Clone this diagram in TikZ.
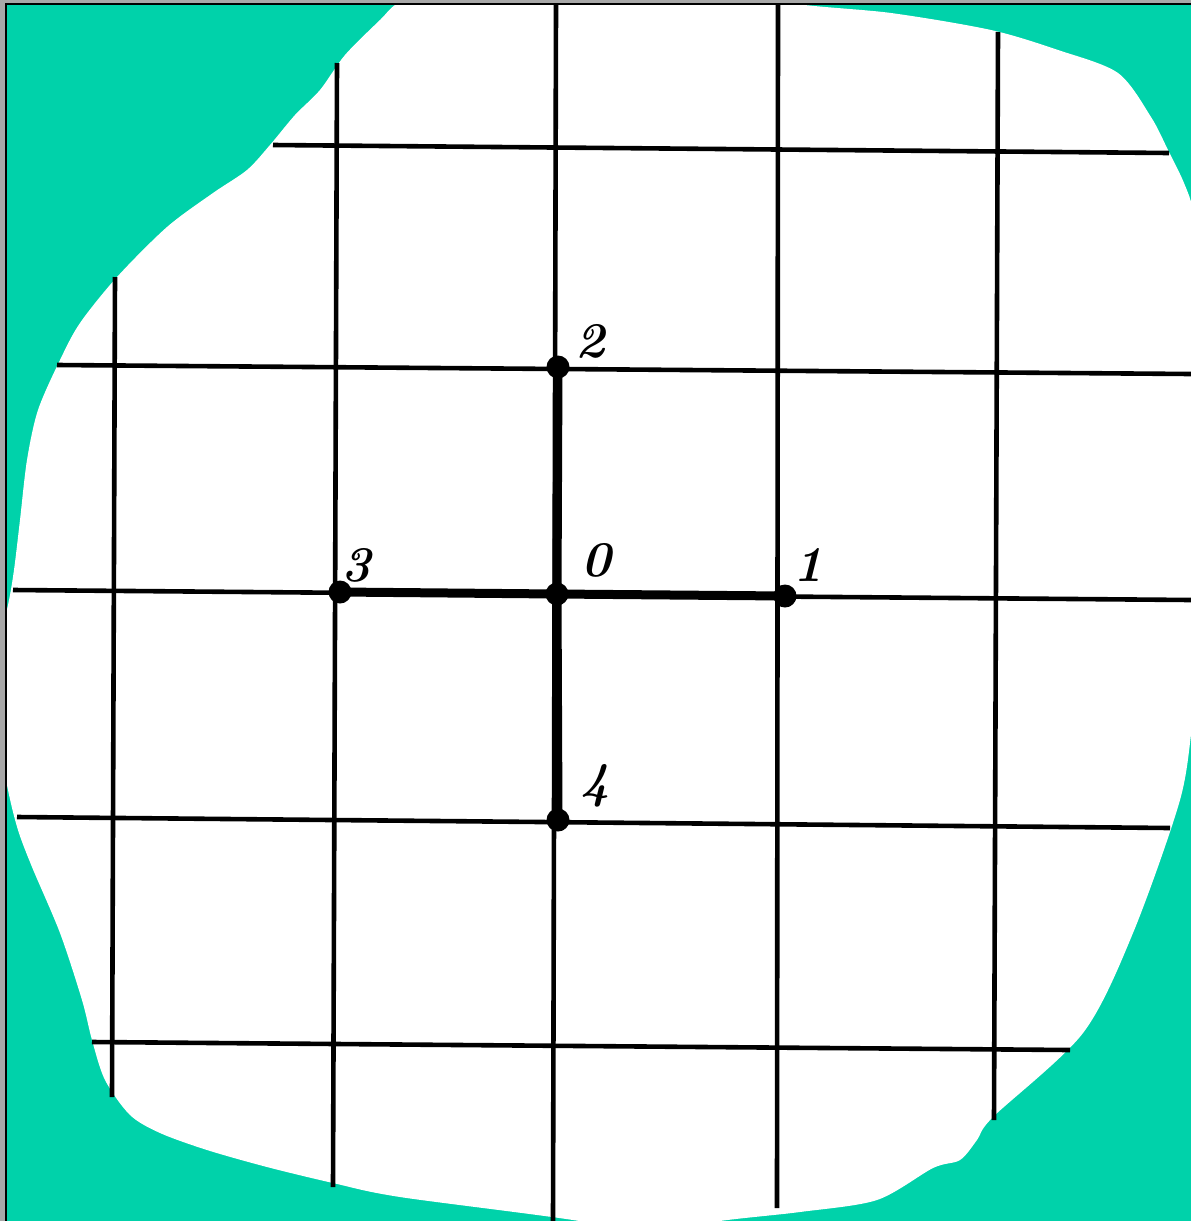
\documentclass[tikz,border=0pt]{standalone}
\definecolor{teal}{HTML}{00D2AA}
\definecolor{frame}{HTML}{A8A8A8}
\tikzset{
  grid line/.style={line width=4.6pt, black},
  thick link/.style={line width=9pt, black},
  dotnode/.style={circle, fill=black, inner sep=0pt, minimum size=23pt},
  digit/.style={font=\fontsize{50}{50}\selectfont\bfseries\itshape, inner sep=0pt}
}
\begin{document}
\begin{tikzpicture}[x=1pt,y=-1pt]
\useasboundingbox (0,0) rectangle (1191,1221);
\fill[frame] (0,0) rectangle (1191,1221);
\fill[teal] (6,3) rectangle (1191,1221);
\begin{scope}
\clip (7,5) rectangle (1191,1221);
\fill[white] plot[smooth cycle] coordinates {
 (380,20) (400,2) (450,-15) (750,-15) (791,3) (891,13) (991,30) (1058,50) (1118,73)
 (1151,117) (1168,150) (1184,183) (1194,215) (1205,300) (1205,650) (1193,720)
 (1180,800) (1133,933) (1083,1033) (993,1117) (977,1140) (960,1160) (933,1168)
 (877,1200) (800,1212) (714,1222) (680,1235) (600,1235) (585,1222) (400,1197)
 (333,1183) (267,1167) (207,1150) (160,1133) (130,1115) (105,1080)
 (92,1040) (82,1000) (60,933) (32,867) (18,830) (8,790) (-5,720)
 (-5,660) (8,605) (14,570) (20,520) (27,460) (38,410) (60,360) (80,323)
 (117,277) (167,227) (213,193) (247,170) (270,145) (295,115) (320,90) (345,55)
};
% grid lines
\draw[grid line] (115,277) -- (112,1097);
\draw[grid line] (337,63) -- (333,1187);
\draw[grid line] (556,5) -- (553,1221);
\draw[grid line] (778,5) -- (777,1208);
\draw[grid line] (998,32) -- (994,1120);
\draw[grid line] (273,145) -- (1169,153);
\draw[grid line] (57,365) -- (1191,374);
\draw[grid line] (13,590) -- (1191,600);
\draw[grid line] (17,817) -- (1170,828);
\draw[grid line] (92,1042) -- (1070,1050);
\end{scope}
% nodes
\node[dotnode] (p0) at (557,594) {};
\node[dotnode] (p1) at (785,596) {};
\node[dotnode] (p2) at (558,367) {};
\node[dotnode] (p3) at (340,592) {};
\node[dotnode] (p4) at (558,820) {};
\draw[thick link] (p3.center) -- (p0.center) -- (p1.center);
\draw[thick link] (p2.center) -- (p0.center) -- (p4.center);
% labels
\node[digit] (l0) at (596,560) {0};
\node[digit] (l1) at (808,565) {1};
\node[digit] (l2) at (590,341) {2};
\node[digit] (l3) at (356,565) {3};
\node[digit] (l4) at (595,786) {4};
% frame lines
\draw[line width=2pt] (6,1221) -- (6,4) -- (1191,4);
\end{tikzpicture}
\end{document}
